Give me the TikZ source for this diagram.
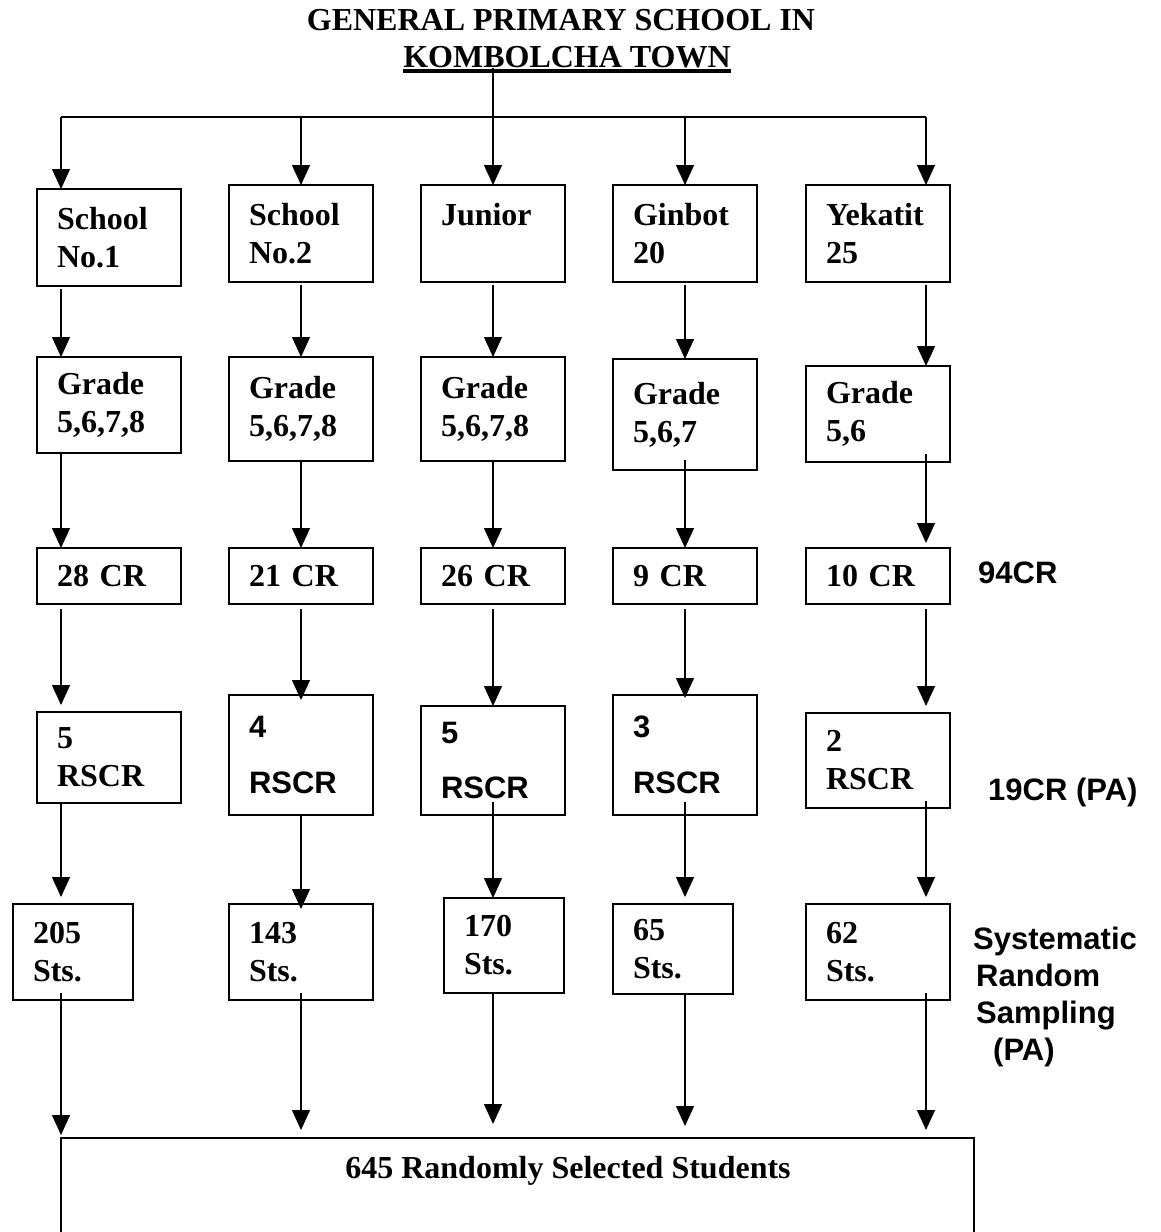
\documentclass[tikz,border=0pt]{standalone}
\usepackage{fontspec}
\setmainfont{Liberation Serif}
\newfontfamily\arialfont{Liberation Sans}
\usetikzlibrary{arrows.meta}

\begin{document}
\begin{tikzpicture}[x=1pt, y=-1pt, font=\fontsize{32}{38}\selectfont\bfseries,
  box/.style={draw=black, line width=2pt, anchor=north west, align=left, inner xsep=20pt, inner ysep=0pt, outer sep=0pt},
  wide/.style={text width=104pt}, narrow/.style={text width=80pt},
  sansbox/.style={box, font=\fontsize{31}{38}\selectfont\arialfont\bfseries},
  arrow/.style={-{Triangle[length=20pt, width=18pt]}, line width=1.3pt, draw=black},
  link/.style={line width=1.3pt, draw=black},
  frame/.style={line width=2pt, draw=black},
  note/.style={anchor=base west, inner sep=0pt, font=\fontsize{31}{37}\selectfont\arialfont\bfseries}]
  \useasboundingbox (0,0) rectangle (1160,1232);
  % title
  \node[anchor=base, inner sep=0pt] (t1) at (561,30) {GENERAL PRIMARY SCHOOL IN};
  \node[anchor=base, inner sep=0pt] (t2) at (567,67) {KOMBOLCHA TOWN};
  \draw[line width=3.5pt] ([yshift=-4pt]t2.base west) -- ([yshift=-4pt]t2.base east);
  \coordinate (c1) at (61,117);
  \coordinate (c2) at (301,117);
  \coordinate (c3) at (493,117);
  \coordinate (c4) at (685,117);
  \coordinate (c5) at (926,117);
  % schools
  \node[box, wide, minimum height=97pt] (sc1) at (37,189) {School\\No.1};
  \node[box, wide, minimum height=97pt] (sc2) at (229,185) {School\\No.2};
  \node[box, wide, minimum height=97pt] (sc3) at (421,185) {Junior\\\mbox{}};
  \node[box, wide, minimum height=97pt] (sc4) at (613,185) {Ginbot\\20};
  \node[box, wide, minimum height=97pt] (sc5) at (806,185) {Yekatit\\25};
  % grades
  \node[box, wide, minimum height=96pt] (gr1) at (37,357) {Grade\\5,6,7,8};
  \node[box, wide, minimum height=104pt] (gr2) at (229,357) {Grade\\5,6,7,8};
  \node[box, wide, minimum height=104pt] (gr3) at (421,357) {Grade\\5,6,7,8};
  \node[box, wide, minimum height=111pt] (gr4) at (613,359) {Grade\\5,6,7};
  \node[box, wide, minimum height=96pt] (gr5) at (806,366) {Grade\\5,6};
  % classes
  \node[box, wide, minimum height=56pt] (cr1) at (37,548) {28 CR};
  \node[box, wide, minimum height=56pt] (cr2) at (229,548) {21 CR};
  \node[box, wide, minimum height=56pt] (cr3) at (421,548) {26 CR};
  \node[box, wide, minimum height=56pt] (cr4) at (613,548) {9 CR};
  \node[box, wide, minimum height=56pt] (cr5) at (806,548) {10 CR};
  % sampled classes
  \node[box, wide, minimum height=91pt] (rs1) at (37,712) {5\\RSCR};
  \node[sansbox, wide, minimum height=120pt] (rs2) at (229,695) {4\\[18pt]RSCR};
  \node[sansbox, wide, minimum height=109pt] (rs3) at (421,706) {5\\[17pt]RSCR};
  \node[sansbox, wide, minimum height=120pt] (rs4) at (613,695) {3\\[18pt]RSCR};
  \node[box, wide, minimum height=95pt] (rs5) at (806,713) {2\\RSCR};
  % students
  \node[box, narrow, minimum height=96pt] (st1) at (13,904) {205\\Sts.};
  \node[box, wide, minimum height=96pt] (st2) at (229,904) {143\\Sts.};
  \node[box, narrow, minimum height=95pt] (st3) at (444,898) {170\\Sts.};
  \node[box, narrow, minimum height=90pt] (st4) at (613,904) {65\\Sts.};
  \node[box, wide, minimum height=96pt] (st5) at (806,904) {62\\Sts.};
  % total
  \coordinate (sel nw) at (61,1138);
  \coordinate (sel ne) at (974,1138);
  \node[anchor=base, inner sep=0pt] (sel) at (568,1178) {645 Randomly Selected Students};
  \draw[frame] (61,1232) -- (sel nw) -- (sel ne) -- (974,1232);
  % notes on the right
  \node[note] (n94) at (978,583) {94CR};
  \node[note] (n19) at (988,800) {19CR (PA)};
  \node[note, anchor=north west, align=left] (nsys) at (973,927) {Systematic\\\hspace*{3pt}Random\\\hspace*{3pt}Sampling\\\hspace*{20pt}(PA)};
  % connectors
  \draw[link] (t2.south -| c3) -- (c3);
  \draw[frame] (c1) -- (c5);
  \draw[arrow] (c1) -- (c1 |- sc1.north);
  \draw[arrow] (c2) -- (c2 |- sc2.north);
  \draw[arrow] (c3) -- (c3 |- sc3.north);
  \draw[arrow] (c4) -- (c4 |- sc4.north);
  \draw[arrow] (c5) -- (c5 |- sc5.north);
  \draw[arrow, shorten <=3pt] (c1 |- sc1.south) -- (c1 |- gr1.north);
  \draw[arrow, shorten <=3pt] (c2 |- sc2.south) -- (c2 |- gr2.north);
  \draw[arrow, shorten <=3pt] (c3 |- sc3.south) -- (c3 |- gr3.north);
  \draw[arrow, shorten <=3pt] (c4 |- sc4.south) -- (c4 |- gr4.north);
  \draw[arrow, shorten <=3pt] (c5 |- sc5.south) -- (c5 |- gr5.north);
  \draw[arrow] (c1 |- gr1.south) -- (c1 |- cr1.north);
  \draw[arrow] (c2 |- gr2.south) -- (c2 |- cr2.north);
  \draw[arrow] (c3 |- gr3.south) -- (c3 |- cr3.north);
  \draw[arrow, shorten <=-10pt] (c4 |- gr4.south) -- (c4 |- cr4.north);
  \draw[arrow, shorten <=-8pt, shorten >=5pt] (c5 |- gr5.south) -- (c5 |- cr5.north);
  \draw[arrow, shorten <=5pt, shorten >=7pt] (c1 |- cr1.south) -- (c1 |- rs1.north);
  \draw[arrow, shorten <=5pt, shorten >=-5pt] (c2 |- cr2.south) -- (c2 |- rs2.north);
  \draw[arrow, shorten <=5pt] (c3 |- cr3.south) -- (c3 |- rs3.north);
  \draw[arrow, shorten <=5pt, shorten >=-3pt] (c4 |- cr4.south) -- (c4 |- rs4.north);
  \draw[arrow, shorten <=5pt, shorten >=7pt] (c5 |- cr5.south) -- (c5 |- rs5.north);
  \draw[arrow, shorten >=7pt] (c1 |- rs1.south) -- (c1 |- st1.north);
  \draw[arrow, shorten >=-5pt] (c2 |- rs2.south) -- (c2 |- st2.north);
  \draw[arrow, shorten <=-13pt] (c3 |- rs3.south) -- (c3 |- st3.north);
  \draw[arrow, shorten <=-13pt, shorten >=7pt] (c4 |- rs4.south) -- (c4 |- st4.north);
  \draw[arrow, shorten <=-7pt, shorten >=7pt] (c5 |- rs5.south) -- (c5 |- st5.north);
  \draw[arrow, shorten <=-7pt, shorten >=3pt] (c1 |- st1.south) -- (c1 |- sel nw);
  \draw[arrow, shorten <=-7pt, shorten >=8pt] (c2 |- st2.south) -- (c2 |- sel nw);
  \draw[arrow, shorten >=14pt] (c3 |- st3.south) -- (c3 |- sel nw);
  \draw[arrow, shorten >=12pt] (c4 |- st4.south) -- (c4 |- sel nw);
  \draw[arrow, shorten <=-7pt, shorten >=8pt] (c5 |- st5.south) -- (c5 |- sel nw);
\end{tikzpicture}
\end{document}
